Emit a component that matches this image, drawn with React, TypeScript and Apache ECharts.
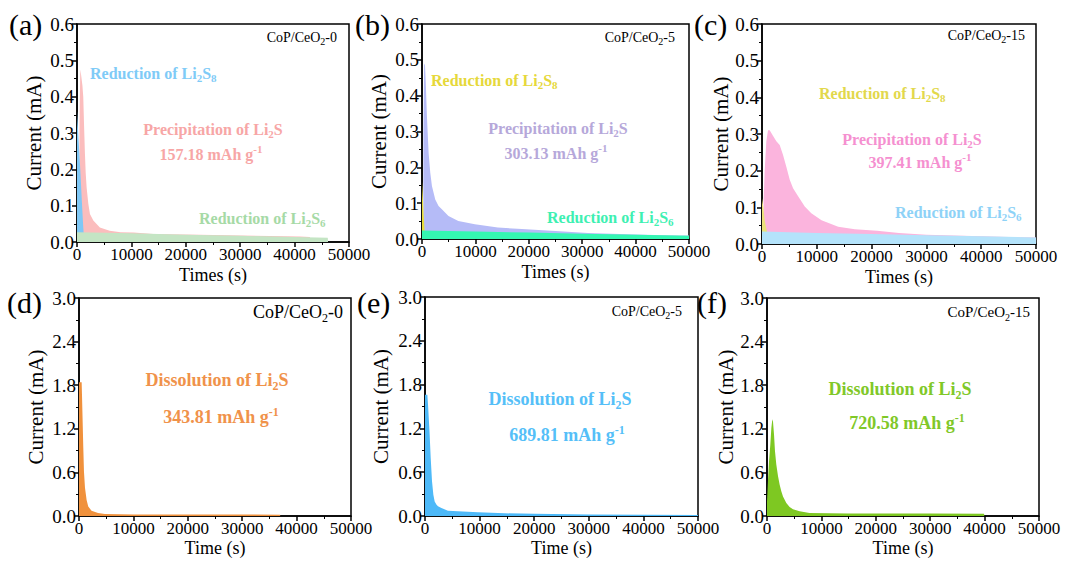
import React, { useEffect, useRef } from "react";
import * as echarts from "echarts";

const FONT = '"Liberation Serif", "Times New Roman", serif';

// ---- data: [time (s), current (mA)] ----
const aLi2S8: number[][] = [[0, 0.36], [300, 0.28], [600, 0.2], [900, 0.11], [1150, 0.04], [1200, 0.03], [1210, 0]];
const aPrecip: number[][] = [[420, 0], [450, 0.3], [600, 0.475], [750, 0.46], [1000, 0.43], [1150, 0.4], [1300, 0.32], [1460, 0.243], [1600, 0.19], [1770, 0.15], [2080, 0.105], [2380, 0.077], [3000, 0.059], [4200, 0.04], [6000, 0.031], [8000, 0.027], [10400, 0.026], [14000, 0.022], [22600, 0.02], [30000, 0.018], [41000, 0.015], [42800, 0.014], [42900, 0]];
const aLi2S6: number[][] = [[0, 0.027], [10000, 0.024], [20000, 0.02], [30000, 0.017], [40000, 0.014], [46100, 0.012], [46150, 0]];

const bLi2S8: number[][] = [[0, 0.16], [150, 0.12], [300, 0.07], [450, 0.03], [500, 0]];
const bPrecip: number[][] = [[240, 0], [270, 0.3], [400, 0.49], [560, 0.485], [700, 0.44], [930, 0.34], [1240, 0.24], [1550, 0.185], [1860, 0.148], [2480, 0.11], [3100, 0.092], [3720, 0.083], [4960, 0.064], [6800, 0.05], [9900, 0.041], [14200, 0.032], [18700, 0.028], [25000, 0.022], [31100, 0.017], [37000, 0.014], [43600, 0.011], [48000, 0.01], [50000, 0.01]];
const bLi2S6: number[][] = [[0, 0.024], [10000, 0.021], [20000, 0.018], [30000, 0.015], [40000, 0.012], [50000, 0.009]];

const cLi2S8: number[][] = [[0, 0.125], [250, 0.1], [490, 0.065], [750, 0.045], [980, 0.03], [1000, 0]];
const cPrecip: number[][] = [[230, 0], [300, 0.12], [490, 0.2], [790, 0.28], [1100, 0.31], [1400, 0.31], [2000, 0.295], [2620, 0.28], [3230, 0.27], [3840, 0.243], [4450, 0.21], [5060, 0.175], [5670, 0.152], [6590, 0.13], [7800, 0.102], [9000, 0.084], [10860, 0.065], [13900, 0.047], [16950, 0.04], [21000, 0.036], [25000, 0.03], [30000, 0.025], [35000, 0.023], [40000, 0.021], [45000, 0.019], [50000, 0.018]];
const cLi2S6: number[][] = [[0, 0.034], [10000, 0.03], [20000, 0.027], [30000, 0.024], [40000, 0.021], [50000, 0.018]];

const dDiss: number[][] = [[0, 1.84], [490, 1.84], [550, 1.67], [670, 1.3], [790, 0.94], [915, 0.61], [1100, 0.39], [1400, 0.22], [1700, 0.13], [2300, 0.073], [3500, 0.04], [4760, 0.028], [10000, 0.022], [20000, 0.02], [30000, 0.02], [36950, 0.018], [37000, 0]];
const eDiss: number[][] = [[0, 1.66], [430, 1.66], [550, 1.53], [850, 1.12], [1040, 0.8], [1280, 0.48], [1530, 0.29], [1770, 0.2], [2080, 0.156], [2380, 0.133], [3000, 0.11], [4200, 0.073], [6000, 0.064], [9700, 0.05], [14600, 0.037], [20000, 0.03], [29900, 0.02], [40000, 0.017], [50000, 0.015]];
const fDiss: number[][] = [[0, 0.2], [180, 0.48], [370, 0.75], [610, 0.98], [800, 1.21], [980, 1.33], [1100, 1.3], [1290, 1.12], [1470, 0.89], [1710, 0.71], [2020, 0.55], [2330, 0.43], [2630, 0.34], [2940, 0.27], [3550, 0.18], [4160, 0.124], [4770, 0.092], [6000, 0.064], [7800, 0.041], [15000, 0.036], [30000, 0.034], [39900, 0.032], [39950, 0]];

const panelLetters = ["(a)", "(b)", "(c)", "(d)", "(e)", "(f)"];
const sampleSuffix = ["-0", "-5", "-15", "-0", "-5", "-15"];
const capacities = ["157.18", "303.13", "397.41", "343.81", "689.81", "720.58"];
const xNames = ["Times (s)", "Times (s)", "Times (s)", "Time (s)", "Time (s)", "Time (s)"];

// ---- layout ----
const grids = [
  { left: 77, top: 24, width: 272, height: 218, yGap: 33 },
  { left: 422, top: 24, width: 267, height: 215, yGap: 33 },
  { left: 762, top: 24, width: 274, height: 220, yGap: 27 },
  { left: 79, top: 298, width: 272, height: 218, yGap: 33 },
  { left: 425, top: 297, width: 273, height: 219, yGap: 34 },
  { left: 767, top: 298, width: 272, height: 218, yGap: 31 },
];

function areaSeries(i: number, data: number[][], color: string, name: string) {
  return {
    type: "line",
    name,
    xAxisIndex: i,
    yAxisIndex: i,
    data,
    showSymbol: false,
    symbol: "none",
    lineStyle: { width: 0, color },
    itemStyle: { color },
    areaStyle: { color, opacity: 1 },
    silent: true,
  };
}

function richStyles(size: number, color: string, bold: boolean) {
  const w = bold ? "bold" : "normal";
  const sub = Math.round(size * 0.68);
  return {
    n: { fontFamily: FONT, fontSize: size, fontWeight: w, fill: color, lineHeight: Math.round(size * 1.3) },
    s: { fontFamily: FONT, fontSize: sub, fontWeight: w, fill: color, lineHeight: Math.round(size * 0.7), verticalAlign: "bottom" },
    u: { fontFamily: FONT, fontSize: sub, fontWeight: w, fill: color, lineHeight: Math.round(size * 0.75), verticalAlign: "top" },
  };
}

function label(x: number, y: number, text: string, size: number, color: string, bold: boolean, align: string) {
  return {
    type: "text",
    x,
    y,
    silent: true,
    style: {
      text,
      rich: richStyles(size, color, bold),
      align,
      verticalAlign: "middle",
      fontFamily: FONT,
      fontSize: size,
      fontWeight: bold ? "bold" : "normal",
      fill: color,
    },
  };
}

export default function App() {
  const ref = useRef<HTMLDivElement>(null);
  useEffect(() => {
    if (!ref.current) return;
    const chart = echarts.init(ref.current, null, { renderer: "svg" });
    const isTop = (i: number) => i < 3;

    const xAxis = grids.map((g, i) => ({
      type: "value",
      gridIndex: i,
      min: 0,
      max: 50000,
      interval: 10000,
      name: xNames[i],
      nameLocation: "middle",
      nameGap: isTop(i) ? 24 : 23,
      nameTextStyle: { fontFamily: FONT, fontSize: 18, color: "#000" },
      axisLine: { show: true, onZero: false, lineStyle: { color: "#000", width: 1.5 } },
      axisTick: { show: true, inside: false, length: 5, lineStyle: { color: "#000", width: 1.5 } },
      minorTick: { show: true, splitNumber: 2, length: 3, lineStyle: { color: "#000", width: 1 } },
      splitLine: { show: false },
      axisLabel: {
        fontFamily: FONT, fontSize: 17, color: "#000", margin: 4,
        showMinLabel: true, showMaxLabel: true,
        formatter: (v: number) => String(Math.round(v)),
      },
    }));
    const yAxis = grids.map((g, i) => ({
      type: "value",
      gridIndex: i,
      min: 0,
      max: isTop(i) ? 0.6 : 3.0,
      interval: isTop(i) ? 0.1 : 0.6,
      name: "Current (mA)",
      nameLocation: "middle",
      nameGap: g.yGap,
      nameTextStyle: { fontFamily: FONT, fontSize: 21, color: "#000" },
      axisLine: { show: true, onZero: false, lineStyle: { color: "#000", width: 1.5 } },
      axisTick: { show: true, inside: false, length: 5, lineStyle: { color: "#000", width: 1.5 } },
      minorTick: { show: true, splitNumber: 2, length: 3, lineStyle: { color: "#000", width: 1 } },
      splitLine: { show: false },
      axisLabel: {
        fontFamily: FONT, fontSize: 19, color: "#000", margin: 3,
        showMinLabel: true, showMaxLabel: true,
        formatter: (v: number) => v.toFixed(1),
      },
    }));

    const series = [
      areaSeries(0, aPrecip, "#fbbdbd", "Precipitation of Li2S"),
      areaSeries(0, aLi2S8, "#7fc8f6", "Reduction of Li2S8"),
      areaSeries(0, aLi2S6, "#c4e5c4", "Reduction of Li2S6"),
      areaSeries(1, bPrecip, "#b5bbf7", "Precipitation of Li2S"),
      areaSeries(1, bLi2S8, "#e6dc3c", "Reduction of Li2S8"),
      areaSeries(1, bLi2S6, "#34f7b2", "Reduction of Li2S6"),
      areaSeries(2, cPrecip, "#fbb4dd", "Precipitation of Li2S"),
      areaSeries(2, cLi2S8, "#eae27a", "Reduction of Li2S8"),
      areaSeries(2, cLi2S6, "#b4e3fb", "Reduction of Li2S6"),
      areaSeries(3, dDiss, "#f0913c", "Dissolution of Li2S"),
      areaSeries(4, eDiss, "#4db9f8", "Dissolution of Li2S"),
      areaSeries(5, fDiss, "#7ec822", "Dissolution of Li2S"),
    ];

    const letterPos = [[9, 24], [355, 24], [694, 24], [7, 302], [357, 302], [697, 302]];
    const samplePos = [[337, 37, 14], [675, 37, 14], [1025, 35, 14], [343, 312, 18], [682, 311, 14], [1030, 312, 15]];

    const graphics: any[] = [];
    letterPos.forEach((p, i) => graphics.push(label(p[0], p[1], `{n|${panelLetters[i]}}`, 30, "#000", false, "left")));
    samplePos.forEach((p, i) =>
      graphics.push(label(p[0], p[1], `{n|CoP/CeO}{s|2}{n|${sampleSuffix[i]}}`, p[2], "#000", false, "right"))
    );

    const capText = (c: string) => `{n|${c} mAh g}{u|-1}`;
    const precip = "{n|Precipitation of Li}{s|2}{n|S}";
    const r8 = "{n|Reduction of Li}{s|2}{n|S}{s|8}";
    const r6 = "{n|Reduction of Li}{s|2}{n|S}{s|6}";
    const diss = "{n|Dissolution of Li}{s|2}{n|S}";

    // (a)
    graphics.push(label(90, 73, r8, 16, "#7fcbf7", true, "left"));
    graphics.push(label(213, 129, precip, 16, "#f7a6a6", true, "center"));
    graphics.push(label(211, 154, capText(capacities[0]), 16, "#f7a6a6", true, "center"));
    graphics.push(label(199, 218, r6, 16, "#a6daa6", true, "left"));
    // (b)
    graphics.push(label(431, 80, r8, 16, "#e6d83a", true, "left"));
    graphics.push(label(558, 128, precip, 16, "#b6a8da", true, "center"));
    graphics.push(label(556, 153, capText(capacities[1]), 16, "#b6a8da", true, "center"));
    graphics.push(label(547, 217, r6, 16, "#3ef0b2", true, "left"));
    // (c)
    graphics.push(label(819, 93, r8, 16, "#e2d84c", true, "left"));
    graphics.push(label(912, 139, precip, 16, "#f590d0", true, "center"));
    graphics.push(label(920, 162, capText(capacities[2]), 16, "#f590d0", true, "center"));
    graphics.push(label(895, 212, r6, 16, "#8ed2f7", true, "left"));
    // (d)-(f)
    graphics.push(label(217, 380, diss, 18, "#f0924a", true, "center"));
    graphics.push(label(221, 417, capText(capacities[3]), 18, "#f0924a", true, "center"));
    graphics.push(label(560, 399, diss, 18, "#55bff8", true, "center"));
    graphics.push(label(567, 435, capText(capacities[4]), 18, "#55bff8", true, "center"));
    graphics.push(label(900, 389, diss, 18, "#80c828", true, "center"));
    graphics.push(label(907, 423, capText(capacities[5]), 18, "#80c828", true, "center"));

    chart.setOption({
      animation: false,
      backgroundColor: "#fff",
      grid: grids.map((g) => ({
        left: g.left, top: g.top, width: g.width, height: g.height,
        show: true, borderColor: "#000", borderWidth: 1.5, backgroundColor: "transparent",
      })),
      xAxis,
      yAxis,
      series,
      graphic: graphics,
    });
    return () => chart.dispose();
  }, []);
  return <div ref={ref} style={{ position: "absolute", left: 0, top: 0, width: 1067, height: 565 }} />;
}
